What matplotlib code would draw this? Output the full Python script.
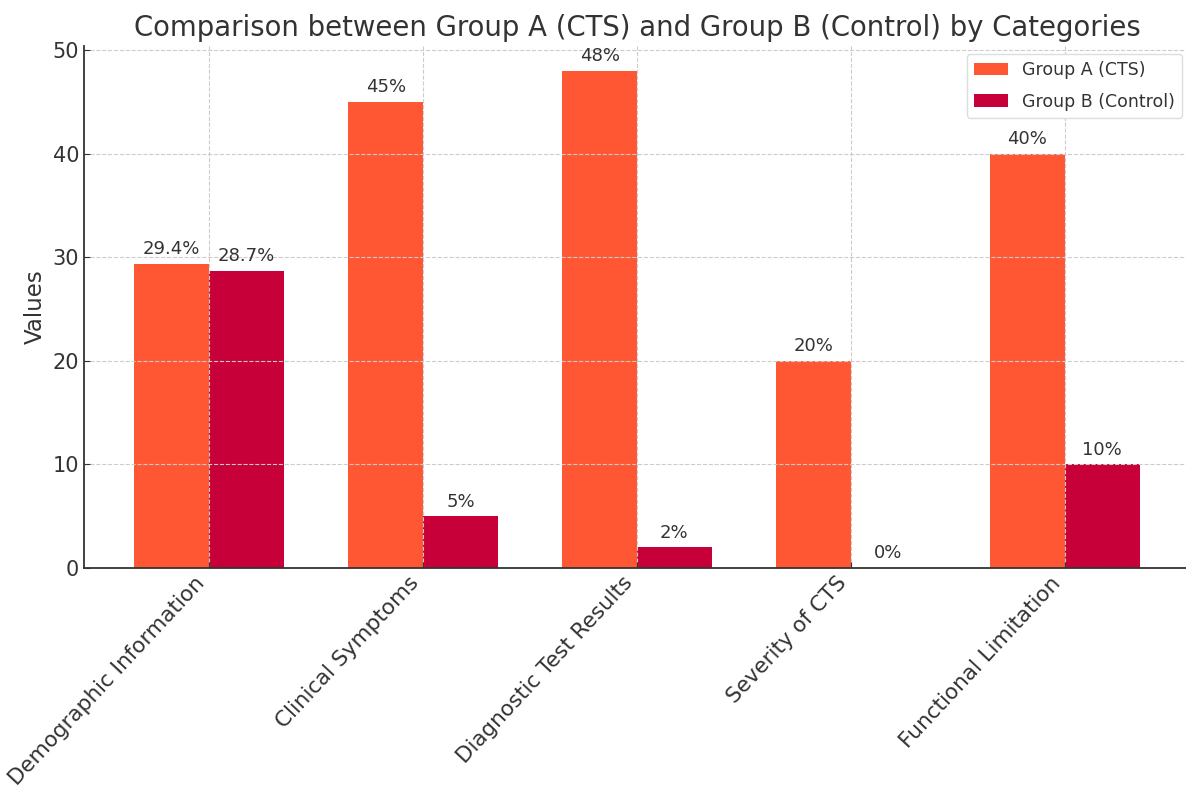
import numpy as np
import matplotlib.pyplot as plt

categories = ["Demographic Information", "Clinical Symptoms", "Diagnostic Test Results",
              "Severity of CTS", "Functional Limitation"]
group_a = [29.4, 45, 48, 20, 40]
group_b = [28.7, 5, 2, 0, 10]

text_col = "#333333"
plt.rcParams["font.family"] = "DejaVu Sans"
plt.rcParams["text.color"] = text_col
plt.rcParams["axes.labelcolor"] = text_col
plt.rcParams["xtick.color"] = text_col
plt.rcParams["ytick.color"] = text_col

fig = plt.figure(figsize=(11.86, 7.96), dpi=100)
ax = fig.add_axes([84 / 1186, 228 / 796, 1106 / 1186, 522 / 796])

x = np.arange(len(categories))
width = 0.35
bars_a = ax.bar(x - width / 2, group_a, width, label="Group A (CTS)", color="#FF5733")
bars_b = ax.bar(x + width / 2, group_b, width, label="Group B (Control)", color="#C70039")

for bars in (bars_a, bars_b):
    for b in bars:
        h = b.get_height()
        ax.annotate(f"{h:g}%", xy=(b.get_x() + b.get_width() / 2, h),
                    xytext=(0, 4), textcoords="offset points",
                    ha="center", va="bottom", fontsize=13, color=text_col)

ax.set_xticks(x)
ax.set_xticklabels(categories, rotation=47, ha="right", fontsize=15.5)
ax.tick_params(axis="y", labelsize=15)
ax.tick_params(direction="in", length=4)
ax.set_ylabel("Values", fontsize=16.5)
ax.set_title("Comparison between Group A (CTS) and Group B (Control) by Categories",
             fontsize=19.8, pad=7)

ax.grid(True, linestyle="--", color="#cccccc", linewidth=0.8)
ax.spines["top"].set_visible(False)
ax.spines["right"].set_visible(False)
ax.spines["left"].set_color(text_col)
ax.spines["bottom"].set_color(text_col)
ax.spines["left"].set_linewidth(1.3)
ax.spines["bottom"].set_linewidth(1.3)

ax.legend(loc="upper right", fontsize=12.5, framealpha=1, edgecolor="#dddddd",
          borderaxespad=0.45, labelspacing=0.8)

fig.savefig("out.png", dpi=100)
